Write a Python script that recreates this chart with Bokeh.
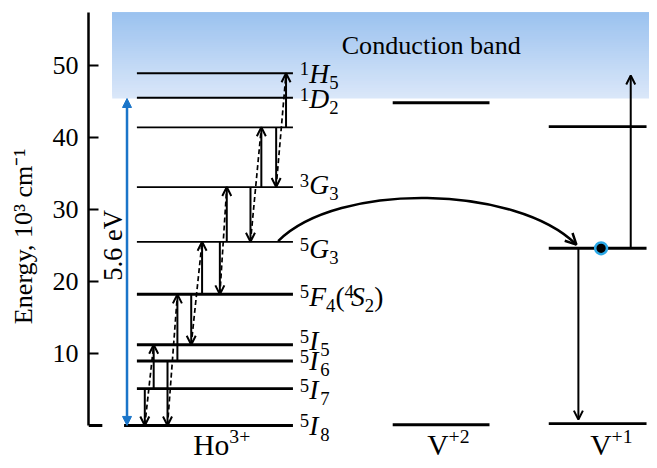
import math
from bokeh.plotting import figure
from bokeh.models import (Range1d, FixedTicker, Arrow, OpenHead, NormalHead,
                          ColumnDataSource)
from bokeh.core.properties import value
from bokeh.embed import file_html
from bokeh.resources import INLINE

FONT = "Liberation Serif"

# ---------------- data (energies in 10^3 cm^-1) ----------------
ho_energy = [0.0, 5.1, 8.95, 11.2, 18.2, 25.5, 33.1, 41.4, 45.5, 48.9]
ho_terms = [
    [("5", "sup"), ("I", "it"), ("8", "sub")],
    [("5", "sup"), ("I", "it"), ("7", "sub")],
    [("5", "sup"), ("I", "it"), ("6", "sub")],
    [("5", "sup"), ("I", "it"), ("5", "sub")],
    [("5", "sup"), ("F", "it"), ("4", "sub"), ("(", "rm"), ("4", "sup"),
     ("S", "it"), ("2", "sub"), (")", "rm")],
    [("5", "sup"), ("G", "it"), ("3", "sub")],
    [("3", "sup"), ("G", "it"), ("3", "sub")],
    None,
    [("1", "sup"), ("D", "it"), ("2", "sub")],
    [("1", "sup"), ("H", "it"), ("5", "sub")],
]
# energy-transfer pairs: one ion relaxes mid->low, the other is excited mid->high
pair_mid = [5.1, 8.95, 18.2, 25.5, 33.1, 41.4]
pair_low = [0.0, 0.0, 11.2, 18.2, 25.5, 33.1]
pair_high = [11.2, 18.2, 25.5, 33.1, 41.4, 48.9]

v2_energy = [0.1, 44.8]
v1_energy = [0.25, 24.6, 41.5]
v1_up = [24.6, 48.6]
v1_down = [24.6, 0.8]
electron_energy = 24.6
band_bottom = 45.4
band_gap_text = "5.6 eV"
band_text = "Conduction band"
y_ticks = [10, 20, 30, 40, 50]
y_title = "Energy, 10\u00b3 cm\u207b\u00b9"
ions = [("Ho", "3+"), ("V", "+2"), ("V", "+1")]

# ---------------- layout ----------------
W, H = 649, 460
FS = 0.985                    # px scale relative to the 657x468 reference
FRAME_LEFT, FRAME_TOP = 88, 12
X_START, X_END = 89, 657
Y_START, Y_END = -4.87, 57.34

ho_x = (138, 296)
ho_ground_left = 125
v2_x = (397, 495)
v1_x = (555, 654)
ho_width = [3.0, 2.8, 3.0, 3.0, 3.0, 1.7, 1.7, 1.7, 2.2, 2.0]
down_x = [146, 169, 193, 222, 253, 279]
up_x = [155, 179, 204, 229, 264, 289]
label_x = 303
label_dy = [0, 1, 0, -4, 2, 7, -2, 0, 1, 0]
v1_down_x, v1_up_x, electron_x = 585, 638, 608
gap_x = 128
band_left = 113
ion_label_x = [195, 432, 597]
BLUE = "#1a75c9"
MID = 0.3375                  # 'middle' anchor height above baseline, in em

p = figure(width=W, height=H, x_range=Range1d(X_START, X_END),
           y_range=Range1d(Y_START, Y_END), output_backend="svg",
           toolbar_location=None, x_axis_type=None, title=None,
           min_border_left=FRAME_LEFT, min_border_right=0,
           min_border_top=FRAME_TOP, min_border_bottom=0)
p.outline_line_color = None
p.ygrid.grid_line_color = None
p.background_fill_color = "white"
p.border_fill_color = "white"
PPU = (H - FRAME_TOP) / (Y_END - Y_START)

ax = p.yaxis[0]
ax.ticker = FixedTicker(ticks=y_ticks)
ax.bounds = (0, Y_END)
ax.axis_line_width = 2.5
ax.axis_line_color = "black"
ax.major_tick_line_width = 2
ax.major_tick_in = 10
ax.major_tick_out = 0
ax.minor_tick_in = 0
ax.minor_tick_out = 0
ax.major_label_text_font = FONT
ax.major_label_text_font_size = "%.1fpx" % (26.5 * FS)
ax.major_label_text_color = "black"
ax.major_label_standoff = 10
ax.axis_label = y_title
ax.axis_label_text_font = FONT
ax.axis_label_text_font_style = "normal"
ax.axis_label_text_font_size = "%.1fpx" % (26.5 * FS)
ax.axis_label_text_color = "black"
ax.axis_label_standoff = 11

# ---- conduction band gradient (stacked strips, each reaching the top) ----
n = 40
c_top = (155, 194, 239)
c_bot = (218, 231, 249)
bb, cols = [], []
for i in range(n):
    f = i / (n - 1)
    bb.append(band_bottom + (Y_END - band_bottom) * i / n)
    r = [round(c_bot[k] + (c_top[k] - c_bot[k]) * f) for k in range(3)]
    cols.append("#%02x%02x%02x" % tuple(r))
p.quad(left=[band_left] * n, right=[X_END] * n, bottom=bb, top=[Y_END] * n,
       fill_color=cols, line_color=None)

# ---- zero tick ----
p.segment(x0=[X_START], x1=[103], y0=[0], y1=[0], line_width=3, line_color="black")

# ---- levels ----
sx0 = ([ho_ground_left if e == 0 else ho_x[0] for e in ho_energy]
       + [v2_x[0]] * len(v2_energy) + [v1_x[0]] * len(v1_energy))
sx1 = [ho_x[1]] * len(ho_energy) + [v2_x[1]] * len(v2_energy) + [v1_x[1]] * len(v1_energy)
sy = ho_energy + v2_energy + v1_energy
sw = ho_width + [3.0] * len(v2_energy) + [2.8] * len(v1_energy)
p.segment(x0=sx0, x1=sx1, y0=sy, y1=sy, line_width=sw, line_color="black")

# ---- Ho energy transfer arrows ----
p.segment(x0=down_x, y0=pair_low, x1=up_x, y1=pair_high, line_dash="5 3",
          line_width=1.7, line_color="black")
src_down = ColumnDataSource(dict(x=down_x, y0=pair_mid, y1=pair_low))
src_up = ColumnDataSource(dict(x=up_x, y0=pair_mid, y1=pair_high))
for src in (src_down, src_up):
    p.add_layout(Arrow(x_start="x", y_start="y0", x_end="x", y_end="y1", source=src,
                       line_width=2, line_color="black",
                       end=OpenHead(size=9, line_width=2, line_color="black")))

# ---- band gap arrow ----
p.add_layout(Arrow(x_start=gap_x, y_start=0, x_end=gap_x, y_end=band_bottom,
                   line_color=BLUE, line_width=2.5,
                   start=NormalHead(size=9, fill_color=BLUE, line_color=BLUE, line_width=1),
                   end=NormalHead(size=9, fill_color=BLUE, line_color=BLUE, line_width=1)))
p.text(x=[gap_x - 14], y=[25.0], text=[band_gap_text], angle=math.pi / 2,
       text_align="center", text_baseline="middle", text_font=value(FONT),
       text_font_size="%.1fpx" % (27 * FS), text_color="black")

# ---- V+1 transitions ----
for xv, (a, b) in ((v1_up_x, v1_up), (v1_down_x, v1_down)):
    p.add_layout(Arrow(x_start=xv, y_start=a, x_end=xv, y_end=b, line_width=2,
                       line_color="black",
                       end=OpenHead(size=9, line_width=2, line_color="black")))

# ---- curved transfer arrow ----
c_start = (ho_x[1] - 15, ho_energy[5] + 0.1)
c_end = (v1_down_x - 2, electron_energy + 0.5)
lift = 60.7
p.bezier(x0=[c_start[0]], y0=[c_start[1]], x1=[c_end[0]], y1=[c_end[1]],
         cx0=[c_start[0] + lift], cy0=[c_start[1] + lift * FS / PPU],
         cx1=[c_end[0] - lift], cy1=[c_end[1] + lift * FS / PPU],
         line_width=2.5, line_color="black")
p.add_layout(Arrow(x_start=c_end[0] - 8, y_start=c_end[1] + 8 * FS / PPU,
                   x_end=c_end[0], y_end=c_end[1], line_alpha=0,
                   end=OpenHead(size=11, line_width=2.5, line_color="black")))

# ---- electron ----
p.scatter(x=[electron_x], y=[electron_energy], size=12 * FS, fill_color="black",
          line_color="#2aa8e6", line_width=2.5)

# ---- conduction band text ----
p.text(x=[436], y=[52.7], text=[band_text], text_align="center",
       text_baseline="middle", text_font=value(FONT),
       text_font_size="%.1fpx" % (26.5 * FS), text_color="black")

# ---- level labels ----
MAIN, SMALL = 28 * FS, 19 * FS
IT_W = {"H": .722, "D": .722, "G": .722, "F": .611, "I": .333, "S": .5}
base = 0.662 * MAIN / 2
groups = {k: dict(x=[], y=[], text=[], xo=[], yo=[]) for k in ("it", "rm", "small")}
for e, parts, dy in zip(ho_energy, ho_terms, label_dy):
    if parts is None:
        continue
    B = base + dy * FS        # baseline offset below the level line
    cur = 0.0
    prev_t, prev_r = None, None
    for t, role in parts:
        if role == "sub" and prev_t == "I":
            cur += 2 * FS
        if role == "it" and prev_r == "sup" and cur > 20:
            cur -= 3 * FS
        if role == "it":
            g, yo, w = "it", B - MID * MAIN, IT_W[t] * MAIN
        elif role == "rm":
            g, yo, w = "rm", B - MID * MAIN, .333 * MAIN
        elif role == "sup":
            g, yo, w = "small", B - 7.5 * FS - MID * SMALL, .5 * SMALL
        else:
            g, yo, w = "small", B + 6 * FS - MID * SMALL, .5 * SMALL
        d = groups[g]
        d["x"].append(label_x); d["y"].append(e); d["text"].append(t)
        d["xo"].append(cur); d["yo"].append(yo)
        cur += w
        prev_t, prev_r = t, role

for g, size, style in (("it", MAIN, "italic"), ("rm", MAIN, "normal"), ("small", SMALL, "normal")):
    d = groups[g]
    p.text(x=d["x"], y=d["y"], text=d["text"], x_offset=d["xo"], y_offset=d["yo"],
           text_font=value(FONT), text_font_size="%.1fpx" % size,
           text_font_style=value(style), text_align="left",
           text_baseline="middle", text_color="black")

# ---- ion labels ----
ION_MAIN, ION_SUP = 30 * FS, 20 * FS
ion_w = {"Ho": (.722 + .5) * ION_MAIN, "V": .722 * ION_MAIN}
ion_base = 29.5 * FS
p.text(x=ion_label_x, y=[0] * 3, text=[a for a, b in ions],
       y_offset=[ion_base - MID * ION_MAIN] * 3,
       text_font=value(FONT), text_font_size="%.1fpx" % ION_MAIN,
       text_align="left", text_baseline="middle", text_color="black")
p.text(x=ion_label_x, y=[0] * 3, text=[b for a, b in ions],
       x_offset=[ion_w[a] for a, b in ions],
       y_offset=[ion_base - 12 * FS - MID * ION_SUP] * 3,
       text_font=value(FONT), text_font_size="%.1fpx" % ION_SUP,
       text_align="left", text_baseline="middle", text_color="black")

open("out.html", "w").write(file_html(p, INLINE))
